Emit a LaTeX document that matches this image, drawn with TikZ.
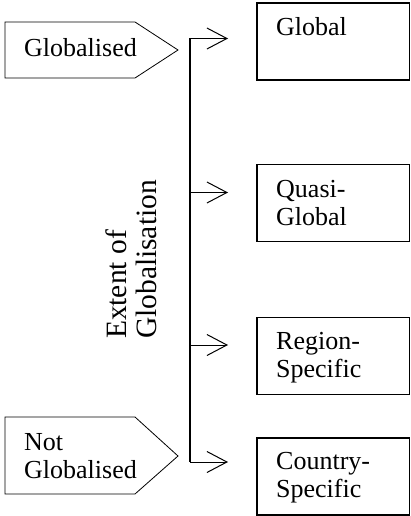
\documentclass[tikz,border=0pt]{standalone}
\usepackage{fontspec}
\setmainfont{Liberation Serif}
\usetikzlibrary{arrows.meta}
\tikzset{
  boxtxt/.style={font=\fontsize{26}{28.5}\selectfont, align=left, inner sep=0pt, anchor=north west},
  catbox/.style={draw, line width=1.6pt, minimum width=152.5pt, minimum height=77pt, inner sep=0pt, anchor=north west},
  penta/.style={draw, line width=0.8pt},
  spine/.style={draw, line width=1.3pt},
  arr/.style={draw, line width=1pt, -{Straight Barb[length=20pt,width=21pt,line width=1pt]}, shorten >=28pt},
}
\begin{document}
\begin{tikzpicture}[x=1pt,y=-1pt]
\useasboundingbox (0,0) rectangle (410,516);
% pentagons
\draw[penta] (5,22) -- (135,22) -- (178,50) -- (135,78) -- (5,78) -- cycle;
\node[boxtxt, anchor=base west] (glob) at (24,57) {Globalised};
\draw[penta] (5,417) -- (135,417) -- (178,456) -- (135,494) -- (5,494) -- cycle;
\node[boxtxt] (notglob) at (24,433) {Not\\Globalised};
% boxes
\node[catbox] (global) at (256,2) {};
\node[catbox] (quasi) at (256,163.5) {};
\node[catbox] (region) at (256,316.5) {};
\node[catbox] (country) at (256,437) {};
\node[boxtxt] (tglobal) at (276,17) {Global};
\node[boxtxt] (tquasi) at (276,180) {Quasi-\\Global};
\node[boxtxt] (tregion) at (276,332) {Region-\\Specific};
\node[boxtxt] (tcountry) at (276,452) {Country-\\Specific};
% spine
\coordinate (s1) at (190,38.5);
\coordinate (s2) at (190,192.5);
\coordinate (s3) at (190,345);
\coordinate (s4) at (190,462);
\draw[spine] (s1) -- (s4);
\draw[arr] (s1) -- (s1 -| global.west);
\draw[arr] (s2) -- (s2 -| quasi.west);
\draw[arr] (s3) -- (s3 -| region.west);
\draw[arr] (s4) -- (s4 -| country.west);
% axis label
\node[font=\fontsize{29.5}{30}\selectfont, align=left, rotate=90, inner sep=0pt] (axis) at (131.5,259.5) {Extent of\\Globalisation};
\end{tikzpicture}
\end{document}
